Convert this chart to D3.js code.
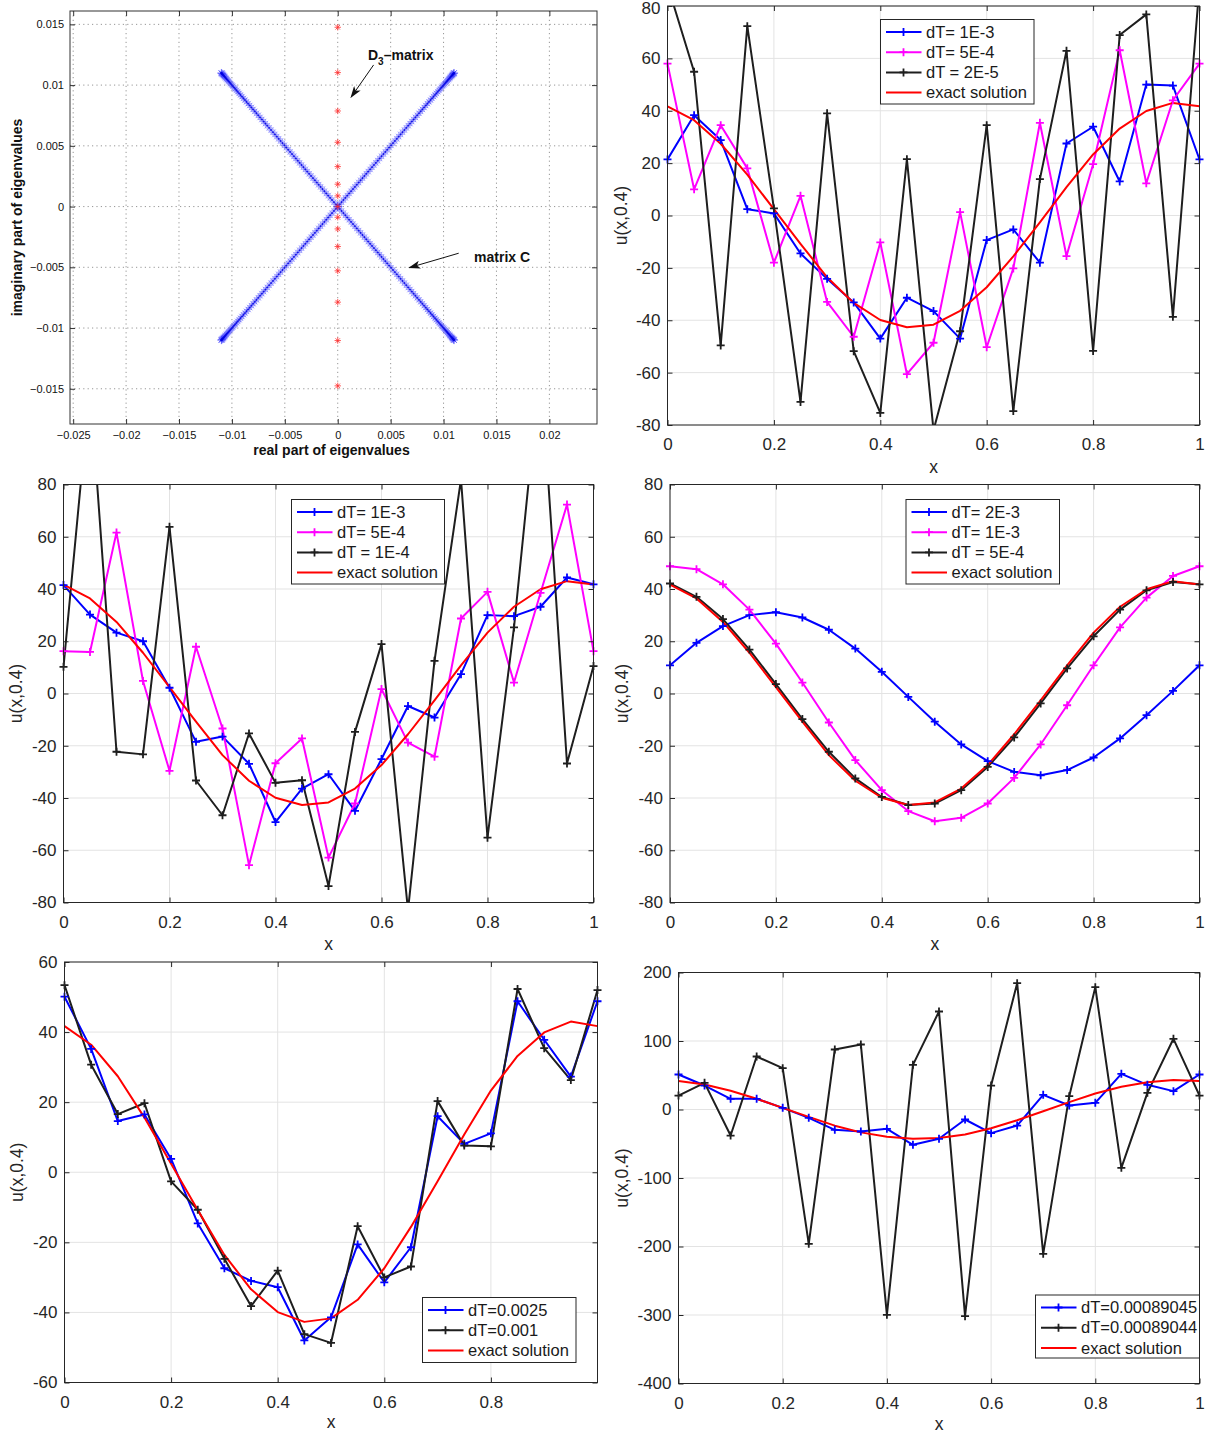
<!DOCTYPE html>
<html>
<head>
<meta charset="utf-8">
<script src="https://cdn.jsdelivr.net/npm/d3@7"></script>
<style>
  html, body { margin: 0; padding: 0; background: #fff; }
  svg { display: block; font-family: "Liberation Sans", Arial, Helvetica, sans-serif; }
</style>
</head>
<body>
<svg id="fig" width="1211" height="1436"></svg>
<script>
// ---------- eigenvalue spectra ----------
// |Re| = |Im| along each arm of the matrix C spectrum (values ×1e-3)
const eigArmC = [0, 0.18, 0.36, 0.54, 0.72, 0.9, 1.08, 1.26, 1.44, 1.62, 1.8, 1.98, 2.16, 2.34, 2.52,
  2.7, 2.88, 3.06, 3.24, 3.42, 3.6, 3.78, 3.96, 4.14, 4.32, 4.5, 4.68, 4.86, 5.04, 5.22, 5.4, 5.58,
  5.76, 5.94, 6.12, 6.3, 6.48, 6.66, 6.83, 7.0, 7.17, 7.34, 7.51, 7.68, 7.84, 8.0, 8.16, 8.32, 8.47,
  8.62, 8.77, 8.91, 9.05, 9.19, 9.32, 9.45, 9.57, 9.69, 9.8, 9.91, 10.01, 10.11, 10.2, 10.29, 10.37,
  10.45, 10.52, 10.59, 10.65, 10.71, 10.76, 10.81, 10.85, 10.89, 10.92, 10.95, 10.97, 10.99, 11.0];
// D3-matrix eigenvalues are purely imaginary
const eigImagD3 = [0.01476, 0.01103, 0.00787, 0.00529, 0.00329, 0.00184, 0.00088, 0,
  -0.00088, -0.00184, -0.00329, -0.00529, -0.00787, -0.01103, -0.01476];
const eigTicksRe = [-0.025, -0.02, -0.015, -0.01, -0.005, 0, 0.005, 0.01, 0.015, 0.02];
const eigTicksIm = [-0.015, -0.01, -0.005, 0, 0.005, 0.01, 0.015];

// ---------- u(x,0.4) on the grid x = 0 : 0.05 : 1 ----------
const xNodes = [0, 0.05, 0.1, 0.15, 0.2, 0.25, 0.3, 0.35, 0.4, 0.45, 0.5, 0.55, 0.6, 0.65, 0.7, 0.75, 0.8, 0.85, 0.9, 0.95, 1];
const exactU = [41.7, 36.4, 27.4, 15.6, 2.4, -10.8, -23.6, -33.4, -39.9, -42.7, -41.7, -36.4, -27.4, -15.6, -2.6, 10.8, 23.3, 33.2, 39.9, 43.0, 41.7];

// run A
const uA_dt1e3 = [21.4, 38.3, 28.8, 2.4, 0.8, -14.5, -24.2, -33.2, -47, -31.4, -36.5, -47, -9.4, -5.3, -18, 27.5, 33.9, 13, 50, 49.6, 21.4];
const uA_dt5e4 = [58, 10, 34.5, 18, -18, 7.5, -33, -46.3, -10.3, -60.6, -48.6, 1.3, -50.3, -20.2, 35.4, -15.5, 19.6, 63.1, 12.3, 44, 58];
const uA_dt2e5 = [88, 54.9, -49.6, 72.3, 2.7, -71.2, 39, -51.8, -75.4, 21.5, -82, -44.2, 34.5, -74.7, 13.9, 62.9, -51.7, 68.9, 76.8, -38.7, 88];
// run B
const uB_dt1e3 = [41.5, 30.2, 23.3, 20, 2.2, -18.5, -16.5, -26.9, -49.2, -36.4, -30.9, -44.9, -25.1, -4.8, -9.2, 7.4, 30, 29.6, 33.2, 44.4, 41.8];
const uB_dt5e4 = [16.2, 15.9, 61.6, 4.8, -29.6, 17.9, -13.4, -65.7, -26.7, -17.2, -62.8, -42.1, 1.7, -18.8, -24.2, 28.7, 38.9, 4.2, 38.5, 72.3, 16.2];
const uB_dt1e4 = [10.2, 118, -22.3, -23.3, 63.8, -33.3, -46.6, -15.3, -34.2, -33.2, -73.7, -14.7, 18.9, -83, 12.5, 82, -55.2, 25.3, 126, -26.8, 10.5];
// run C
const uC_dt2e3 = [10.8, 19.4, 25.8, 30, 31.1, 29.1, 24.4, 17.2, 8.3, -1.3, -10.8, -19.5, -25.9, -30, -31.3, -29.3, -24.5, -17.2, -8.3, 1, 10.8];
const uC_dt1e3 = [48.7, 47.6, 41.8, 32.1, 19.1, 4.2, -11.1, -25.5, -37, -45, -48.9, -47.6, -42.1, -32.3, -19.5, -4.5, 10.8, 25.3, 36.7, 45, 48.7];
const uC_dt5e4 = [42.1, 37, 28.5, 16.8, 3.6, -9.8, -22.3, -32.5, -39.6, -42.7, -42.1, -37, -28.1, -16.8, -3.8, 9.6, 21.9, 32.1, 39.5, 42.7, 41.8];
// run D
const uD_dt25e4 = [50.1, 35.2, 14.6, 16.5, 3.8, -14.6, -27.4, -31, -32.8, -48, -41.4, -20.6, -31.4, -21.4, 16, 8.1, 11.1, 48.8, 37.8, 27.3, 48.8];
const uD_dt1e3 = [53.4, 30.7, 16.6, 19.7, -2.6, -10.7, -24.7, -38.2, -28.1, -46.2, -48.7, -15.4, -30, -26.9, 20.3, 7.6, 7.4, 52.3, 35.4, 26.3, 52];
// run E (stability limit)
const uE_dt89045 = [51.1, 35, 15.6, 15.6, 2.4, -12.2, -29.7, -32.1, -28.2, -51.6, -42.8, -14.6, -34.5, -23.4, 21.4, 5.8, 9.7, 52.1, 36, 26.8, 51.1];
const uE_dt89044 = [20.4, 38.9, -38, 77.4, 60.3, -196.1, 87.6, 94.9, -299.8, 65.2, 143.1, -301.7, 35, 184.4, -210.7, 19.5, 178.6, -85.2, 24.3, 103.2, 20.4];

const xTicksFull = [0, 0.2, 0.4, 0.6, 0.8, 1];
const xTicksNoEnd = [0, 0.2, 0.4, 0.6, 0.8];
const yTicks80 = [-80, -60, -40, -20, 0, 20, 40, 60, 80];
const yTicks60 = [-60, -40, -20, 0, 20, 40, 60];
const yTicks400 = [-400, -300, -200, -100, 0, 100, 200];

const legendA = ["dT= 1E-3", "dT= 5E-4", "dT = 2E-5", "exact solution"];
const legendB = ["dT= 1E-3", "dT= 5E-4", "dT = 1E-4", "exact solution"];
const legendC = ["dT= 2E-3", "dT= 1E-3", "dT = 5E-4", "exact solution"];
const legendD = ["dT=0.0025", "dT=0.001", "exact solution"];
const legendE = ["dT=0.00089045", "dT=0.00089044", "exact solution"];

// ---------- drawing ----------
const svg = d3.select("#fig");
const defs = svg.append("defs");
const AX = "#262626";
const BLUE = "#0000ff", MAG = "#ff00ff", BLK = "#1e1e1e", RED = "#ff0000";

function plusPath(x, y, r) { return `M${x - r},${y}H${x + r}M${x},${y - r}V${y + r}`; }
function starPath(x, y, r) {
  const d = r * 0.7071;
  return `M${x - r},${y}H${x + r}M${x},${y - r}V${y + r}M${x - d},${y - d}L${x + d},${y + d}M${x - d},${y + d}L${x + d},${y - d}`;
}
const fmtTick = v => String(v);

// --- eigenvalue panel ---
(function eigenPanel() {
  const box = { x0: 70, x1: 597, y0: 11, y1: 424 };
  const xs = d3.scaleLinear().domain([-0.0253, 0.0245]).range([box.x0, box.x1]);
  const ys = d3.scaleLinear().domain([-0.0179, 0.0161]).range([box.y1, box.y0]);
  const g = svg.append("g");
  const fmt = v => (v < 0 ? "\u2212" : "") + String(Math.abs(v));

  // dotted grid
  g.append("g").selectAll("line").data(eigTicksRe).join("line")
    .attr("x1", d => xs(d)).attr("x2", d => xs(d)).attr("y1", box.y0).attr("y2", box.y1)
    .attr("stroke", "#8a8a8a").attr("stroke-width", 0.9).attr("stroke-dasharray", "1.2,3.2");
  g.append("g").selectAll("line").data(eigTicksIm).join("line")
    .attr("x1", box.x0).attr("x2", box.x1).attr("y1", d => ys(d)).attr("y2", d => ys(d))
    .attr("stroke", "#8a8a8a").attr("stroke-width", 0.9).attr("stroke-dasharray", "1.2,3.2");

  // matrix C spectrum: four symmetric arms
  const quad = [[1, 1], [1, -1], [-1, 1], [-1, -1]];
  let pts = [];
  quad.forEach(([sx, sy]) => eigArmC.forEach(m => pts.push([sx * m * 1e-3, sy * m * 1e-3])));
  g.append("path")
    .attr("d", pts.map(p => starPath(xs(p[0]), ys(p[1]), 4)).join(""))
    .attr("fill", "none").attr("stroke", "#3a3aff").attr("stroke-width", 0.7).attr("stroke-opacity", 0.5);
  g.append("path")
    .attr("d", pts.map(p => plusPath(xs(p[0]), ys(p[1]), 1.2)).join(""))
    .attr("fill", "none").attr("stroke", "#0000e0").attr("stroke-width", 0.9).attr("stroke-opacity", 0.7);

  // D3-matrix spectrum
  g.append("path")
    .attr("d", eigImagD3.map(v => starPath(xs(0), ys(v), 3.2)).join(""))
    .attr("fill", "none").attr("stroke", "#ff3030").attr("stroke-width", 0.8);

  // box and ticks on all four sides
  g.append("rect").attr("x", box.x0).attr("y", box.y0).attr("width", box.x1 - box.x0).attr("height", box.y1 - box.y0)
    .attr("fill", "none").attr("stroke", "#333").attr("stroke-width", 1);
  const tk = 5;
  const axB = d3.axisBottom(xs).tickValues(eigTicksRe).tickSize(-tk).tickSizeOuter(0).tickPadding(7).tickFormat(fmt);
  const axT = d3.axisTop(xs).tickValues(eigTicksRe).tickSize(-tk).tickSizeOuter(0).tickFormat("");
  const axL = d3.axisLeft(ys).tickValues(eigTicksIm).tickSize(-tk).tickSizeOuter(0).tickPadding(6).tickFormat(fmt);
  const axR = d3.axisRight(ys).tickValues(eigTicksIm).tickSize(-tk).tickSizeOuter(0).tickFormat("");
  const style = s => {
    s.select(".domain").remove();
    s.selectAll(".tick line").attr("stroke", "#333");
    s.selectAll(".tick text").attr("fill", "#111").style("font-size", "11px")
      .style("font-family", '"Liberation Sans", Arial, sans-serif');
  };
  g.append("g").attr("transform", `translate(0,${box.y1})`).call(axB).call(style);
  g.append("g").attr("transform", `translate(0,${box.y0})`).call(axT).call(style);
  g.append("g").attr("transform", `translate(${box.x0},0)`).call(axL).call(style);
  g.append("g").attr("transform", `translate(${box.x1},0)`).call(axR).call(style);

  // axis titles
  g.append("text").attr("x", (box.x0 + box.x1) / 2 - 2).attr("y", 455).attr("text-anchor", "middle")
    .style("font-size", "14px").style("font-weight", "bold").attr("fill", "#111").text("real part of eigenvalues");
  g.append("text").attr("transform", `translate(22,${(box.y0 + box.y1) / 2}) rotate(-90)`).attr("text-anchor", "middle")
    .style("font-size", "14px").style("font-weight", "bold").attr("fill", "#111").text("imaginary part of eigenvalues");

  // annotations
  defs.append("marker").attr("id", "arrowHead").attr("viewBox", "0 0 12 8").attr("refX", 11).attr("refY", 4)
    .attr("markerWidth", 12).attr("markerHeight", 8).attr("markerUnits", "userSpaceOnUse").attr("orient", "auto")
    .append("path").attr("d", "M0,0L12,4L0,8L3,4Z").attr("fill", "#111");
  const arrow = (a, b) => g.append("line")
    .attr("x1", xs(a[0])).attr("y1", ys(a[1])).attr("x2", xs(b[0])).attr("y2", ys(b[1]))
    .attr("stroke", "#111").attr("stroke-width", 1).attr("marker-end", "url(#arrowHead)");
  arrow([0.00339, 0.01166], [0.00126, 0.0090]);
  arrow([0.01143, -0.00384], [0.00676, -0.00503]);

  const t1 = g.append("text").attr("x", xs(0.00286)).attr("y", ys(0.01207))
    .style("font-size", "14px").style("font-weight", "bold").attr("fill", "#111");
  t1.append("tspan").text("D");
  t1.append("tspan").attr("dy", 5).style("font-size", "10px").text("3");
  t1.append("tspan").attr("dy", -5).text("\u2013matrix");
  g.append("text").attr("x", xs(0.01288)).attr("y", ys(-0.00454))
    .style("font-size", "14px").style("font-weight", "bold").attr("fill", "#111").text("matrix C");
})();

// --- solution panels ---
function solutionPanel(cfg, idx) {
  const { box, lg } = cfg;
  const xs = d3.scaleLinear().domain([0, 1]).range([box.x0, box.x1]);
  const ys = d3.scaleLinear().domain(cfg.yDomain).range([box.y1, box.y0]);
  const g = svg.append("g");

  // grid
  g.append("g").selectAll("line").data(cfg.xTicks).join("line")
    .attr("x1", d => xs(d)).attr("x2", d => xs(d)).attr("y1", box.y0).attr("y2", box.y1)
    .attr("stroke", "#e3e3e3").attr("stroke-width", 1);
  g.append("g").selectAll("line").data(cfg.yTicks).join("line")
    .attr("x1", box.x0).attr("x2", box.x1).attr("y1", d => ys(d)).attr("y2", d => ys(d))
    .attr("stroke", "#e3e3e3").attr("stroke-width", 1);

  // series
  const cid = "clipP" + idx;
  defs.append("clipPath").attr("id", cid).append("rect")
    .attr("x", box.x0).attr("y", box.y0).attr("width", box.x1 - box.x0).attr("height", box.y1 - box.y0);
  const plot = g.append("g").attr("clip-path", `url(#${cid})`);
  const line = d3.line().x((d, i) => xs(xNodes[i])).y(d => ys(d));
  const [lo, hi] = cfg.yDomain;
  cfg.series.forEach(s => {
    plot.append("path").datum(s.values).attr("d", line)
      .attr("fill", "none").attr("stroke", s.color).attr("stroke-width", 2).attr("stroke-linejoin", "round");
    if (s.marker) {
      g.append("path")
        .attr("d", s.values.map((v, i) => (v >= lo && v <= hi) ? plusPath(xs(xNodes[i]), ys(v), 4) : "").join(""))
        .attr("fill", "none").attr("stroke", s.color).attr("stroke-width", 1.8);
    }
  });

  // box and ticks
  g.append("rect").attr("x", box.x0).attr("y", box.y0).attr("width", box.x1 - box.x0).attr("height", box.y1 - box.y0)
    .attr("fill", "none").attr("stroke", AX).attr("stroke-width", 1);
  const tk = 5;
  const style = s => {
    s.select(".domain").remove();
    s.selectAll(".tick line").attr("stroke", AX);
    s.selectAll(".tick text").attr("fill", AX).style("font-size", "17px")
      .style("font-family", '"Liberation Sans", Arial, sans-serif');
  };
  g.append("g").attr("transform", `translate(0,${box.y1})`)
    .call(d3.axisBottom(xs).tickValues(cfg.xTicks).tickSize(-tk).tickSizeOuter(0).tickPadding(13).tickFormat(fmtTick)).call(style);
  g.append("g").attr("transform", `translate(0,${box.y0})`)
    .call(d3.axisTop(xs).tickValues(cfg.xTicks).tickSize(-tk).tickSizeOuter(0).tickFormat("")).call(style);
  const yAx = g.append("g").attr("transform", `translate(${box.x0},0)`)
    .call(d3.axisLeft(ys).tickValues(cfg.yTicks).tickSize(-tk).tickSizeOuter(0).tickPadding(7).tickFormat(fmtTick)).call(style);
  // keep a label that sits right at the figure's top edge inside the canvas
  yAx.selectAll(".tick").each(function () {
    const t = d3.select(this);
    const ty = +t.attr("transform").match(/,([\d.\-]+)\)/)[1];
    if (ty < 8) t.select("text").attr("dy", "0.42em");
  });
  g.append("g").attr("transform", `translate(${box.x1},0)`)
    .call(d3.axisRight(ys).tickValues(cfg.yTicks).tickSize(-tk).tickSizeOuter(0).tickFormat("")).call(style);

  // axis labels
  g.append("text").attr("x", (box.x0 + box.x1) / 2).attr("y", box.y1 + cfg.xlabelGap).attr("text-anchor", "middle")
    .style("font-size", "17.5px").attr("fill", AX).text("x");
  g.append("text").attr("transform", `translate(${cfg.ylabelX},${(box.y0 + box.y1) / 2}) rotate(-90)`)
    .attr("text-anchor", "middle").attr("dy", "0.35em").style("font-size", "17.5px").attr("fill", AX).text("u(x,0.4)");

  // legend
  g.append("rect").attr("x", lg.x).attr("y", lg.y).attr("width", lg.w).attr("height", lg.h)
    .attr("fill", "#fff").attr("stroke", AX).attr("stroke-width", 1);
  cfg.labels.forEach((t, i) => {
    const s = cfg.series[i];
    const yy = lg.y + 12.5 + i * 20.2;
    g.append("line").attr("x1", lg.x + 5.5).attr("x2", lg.x + 41).attr("y1", yy).attr("y2", yy)
      .attr("stroke", s.color).attr("stroke-width", 2);
    if (s.marker) g.append("path").attr("d", plusPath(lg.x + 23, yy, 4)).attr("stroke", s.color).attr("stroke-width", 1.8);
    g.append("text").attr("x", lg.x + 45.5).attr("y", yy).attr("dy", "0.35em")
      .style("font-size", "16.5px").attr("fill", "#1a1a1a").text(t);
  });
}

const panelCfgs = [
  { box: { x0: 667.5, x1: 1199.5, y0: 6, y1: 425 }, yDomain: [-80, 80], xTicks: xTicksFull, yTicks: yTicks80,
    series: [{ values: uA_dt1e3, color: BLUE, marker: true }, { values: uA_dt5e4, color: MAG, marker: true },
             { values: uA_dt2e5, color: BLK, marker: true }, { values: exactU, color: RED, marker: false }],
    labels: legendA, lg: { x: 880.5, y: 19.5, w: 153.5, h: 84.5 }, ylabelX: 621, xlabelGap: 47.5 },
  { box: { x0: 63.5, x1: 593.5, y0: 484.5, y1: 902.5 }, yDomain: [-80, 80], xTicks: xTicksFull, yTicks: yTicks80,
    series: [{ values: uB_dt1e3, color: BLUE, marker: true }, { values: uB_dt5e4, color: MAG, marker: true },
             { values: uB_dt1e4, color: BLK, marker: true }, { values: exactU, color: RED, marker: false }],
    labels: legendB, lg: { x: 291.5, y: 499.5, w: 153, h: 84.5 }, ylabelX: 16, xlabelGap: 47 },
  { box: { x0: 670, x1: 1199.5, y0: 484.5, y1: 902.5 }, yDomain: [-80, 80], xTicks: xTicksFull, yTicks: yTicks80,
    series: [{ values: uC_dt2e3, color: BLUE, marker: true }, { values: uC_dt1e3, color: MAG, marker: true },
             { values: uC_dt5e4, color: BLK, marker: true }, { values: exactU, color: RED, marker: false }],
    labels: legendC, lg: { x: 906, y: 499.5, w: 153.5, h: 84.5 }, ylabelX: 622, xlabelGap: 47 },
  { box: { x0: 64.5, x1: 597.5, y0: 962, y1: 1382.5 }, yDomain: [-60, 60], xTicks: xTicksNoEnd, yTicks: yTicks60,
    series: [{ values: uD_dt25e4, color: BLUE, marker: true }, { values: uD_dt1e3, color: BLK, marker: true },
             { values: exactU, color: RED, marker: false }],
    labels: legendD, lg: { x: 422.5, y: 1297.5, w: 153.5, h: 65 }, ylabelX: 17, xlabelGap: 45 },
  { box: { x0: 678.5, x1: 1199.5, y0: 972.5, y1: 1383.5 }, yDomain: [-400, 200], xTicks: xTicksFull, yTicks: yTicks400,
    series: [{ values: uE_dt89045, color: BLUE, marker: true }, { values: uE_dt89044, color: BLK, marker: true },
             { values: exactU, color: RED, marker: false }],
    labels: legendE, lg: { x: 1035.5, y: 1295, w: 164, h: 63 }, ylabelX: 621.5, xlabelGap: 46 }
];
panelCfgs.forEach((c, i) => solutionPanel(c, i));
</script>
</body>
</html>
